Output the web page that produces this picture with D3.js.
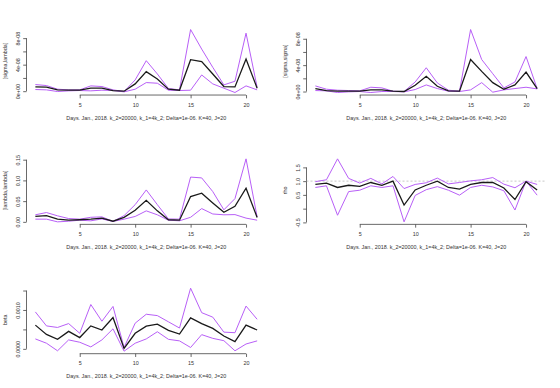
<!DOCTYPE html>
<html>
<head>
<meta charset="utf-8">
<script src="https://cdn.jsdelivr.net/npm/d3@7"></script>
<style>
  body { margin: 0; background: #fff; }
  text { font-family: "Liberation Sans", Arial, sans-serif; fill: #333; }
</style>
</head>
<body>
<div id="chart"></div>
<script>
var days = [1,2,3,4,5,6,7,8,9,10,11,12,13,14,15,16,17,18,19,20,21];
var xTicks = [5,10,15,20];
var xTitle = "Days. Jan., 2018. k_2=20000, k_1=4k_2; Delta=1e-06. K=40, J=20";

// [sigma,lambda]
var sigLamUp   = [1.0e-8,0.85e-8,0.3e-8,0.2e-8,0.2e-8,0.8e-8,0.7e-8,0.2e-8,-0.05e-8,1.7e-8,4.6e-8,2.6e-8,0.4e-8,0.2e-8,9.3e-8,6.35e-8,3.6e-8,0.95e-8,1.5e-8,8.75e-8,0.6e-8];
var sigLamMean = [0.65e-8,0.6e-8,0.2e-8,0.15e-8,0.15e-8,0.45e-8,0.45e-8,0.1e-8,0,1.1e-8,2.95e-8,1.85e-8,0.3e-8,0.15e-8,4.75e-8,4.45e-8,2.6e-8,0.7e-8,0.65e-8,4.85e-8,0.45e-8];
var sigLamLo   = [0.25e-8,0.2e-8,-0.05e-8,0.05e-8,0.1e-8,0.05e-8,0.15e-8,0.1e-8,-0.1e-8,0.3e-8,1.3e-8,1.2e-8,0.15e-8,0.1e-8,0.15e-8,2.45e-8,1.1e-8,0.45e-8,-0.2e-8,0.8e-8,0.2e-8];

// [sigma,sigma]
var sigSigUp   = [0.85e-8,0.35e-8,0.2e-8,0.15e-8,0.1e-8,0.65e-8,0.55e-8,0.05e-8,0,1.45e-8,3.6e-8,1.3e-8,0.2e-8,0.05e-8,9.4e-8,4.85e-8,2.7e-8,0.55e-8,1.45e-8,5.3e-8,0.45e-8];
var sigSigMean = [0.45e-8,0.15e-8,0.05e-8,0.05e-8,0.05e-8,0.25e-8,0.25e-8,0.05e-8,0,0.95e-8,2.3e-8,0.8e-8,0.1e-8,0.05e-8,4.85e-8,3.05e-8,1.35e-8,0.35e-8,1.0e-8,2.95e-8,0.45e-8];
var sigSigLo   = [0.15e-8,0.1e-8,-0.15e-8,-0.05e-8,0,-0.15e-8,0,0,-0.05e-8,0.3e-8,1.0e-8,0.45e-8,0.05e-8,0,0.25e-8,1.35e-8,-0.1e-8,0.25e-8,0.45e-8,0.65e-8,0.4e-8];

// [lambda,lambda]
var lamLamUp   = [0.017,0.0225,0.0145,0.008,0.0065,0.011,0.012,0.001,0.015,0.0415,0.077,0.0415,0.007,0.0065,0.108,0.106,0.073,0.029,0.056,0.152,0.012];
var lamLamMean = [0.013,0.015,0.0065,0.004,0.005,0.0065,0.009,0.0015,0.011,0.028,0.052,0.0265,0.005,0.004,0.061,0.069,0.0455,0.023,0.0375,0.081,0.0105];
var lamLamLo   = [0.0065,0.0065,0,0.0015,0.004,0.0025,0.007,0.001,0.0065,0.013,0.0265,0.017,0.004,0.0025,0.011,0.032,0.019,0.017,0.0175,0.009,0.004];

// rho
var rhoUp   = [0.98,1.05,1.81,1.1,0.93,1.1,0.9,1.17,0.73,0.88,0.94,1.11,0.9,0.95,1.01,1.05,1.13,0.89,0.76,1.0,0.88];
var rhoMean = [0.88,0.93,0.77,0.85,0.81,0.95,0.85,1.0,0.13,0.68,0.85,1.0,0.77,0.71,0.88,0.95,0.95,0.75,0.33,0.98,0.68];
var rhoLo   = [0.77,0.83,-0.24,0.62,0.67,0.83,0.77,0.83,-0.48,0.48,0.69,0.8,0.67,0.49,0.77,0.85,0.79,0.65,-0.05,1.0,0.49];

// beta
var betaUp   = [0.00095,0.00059,0.00055,0.00065,0.0004,0.00114,0.00071,0.00109,0.000035,0.00066,0.00089,0.000855,0.000695,0.000535,0.00156,0.00093,0.000815,0.00043,0.000415,0.0011,0.00076];
var betaMean = [0.00061,0.00037,0.000245,0.00045,0.00029,0.00059,0.000485,0.000805,0.00001,0.0004,0.000585,0.000635,0.000475,0.00038,0.000795,0.00065,0.000525,0.00033,0.000185,0.00061,0.000485];
var betaLo   = [0.000255,0.000145,-0.00005,0.00023,0.00017,0.00005,0.00023,0.000515,-0.00006,0.000145,0.000255,0.00044,0.000245,0.000205,0.000035,0.000365,0.00027,0.00021,-0.00005,0.000125,0.000205];

var panels = [
  {label: "[sigma,lambda]", up: sigLamUp, mean: sigLamMean, lo: sigLamLo,
   ticks: [0,2e-8,4e-8,6e-8,8e-8], tickLabels: ["0e+00","","4e-08","","8e-08"]},
  {label: "[sigma,sigma]", up: sigSigUp, mean: sigSigMean, lo: sigSigLo,
   ticks: [0,2e-8,4e-8,6e-8,8e-8], tickLabels: ["0e+00","","4e-08","","8e-08"]},
  {label: "[lambda,lambda]", up: lamLamUp, mean: lamLamMean, lo: lamLamLo,
   ticks: [0,0.05,0.10,0.15], tickLabels: ["0.00","0.05","0.10","0.15"]},
  {label: "rho", up: rhoUp, mean: rhoMean, lo: rhoLo, refLine: 1,
   ticks: [-0.5,0,0.5,1,1.5], tickLabels: ["-0.5","","0.5","1.0","1.5"]},
  {label: "beta", up: betaUp, mean: betaMean, lo: betaLo,
   ticks: [0,0.0005,0.001,0.0015], tickLabels: ["0.0000","","0.0010",""]}
];

var width = 560, height = 388;
var panelW = width / 2, panelH = height / 3;
var margin = {top: 27, left: 26.5, right: 14, bottom: 34.3};
var fontSize = 5.4;
var purple = "#b85ff7";

var svg = d3.select("#chart")
  .append("svg")
  .attr("width", width)
  .attr("height", height);

// R style: pad the data range by 4% each side
function pad(ext) {
  var d = (ext[1] - ext[0]) * 0.04;
  return [ext[0] - d, ext[1] + d];
}

var xScale = d3.scaleLinear()
  .domain(pad(d3.extent(days)))
  .range([margin.left, panelW - margin.right]);

panels.forEach(function(p, i) {
  var g = svg.append("g")
    .attr("transform", "translate(" + (i % 2) * panelW + "," + Math.floor(i / 2) * panelH + ")");

  var all = p.up.concat(p.mean, p.lo);
  var yScale = d3.scaleLinear()
    .domain(pad(d3.extent(all)))
    .range([panelH - margin.bottom, margin.top]);

  // x axis
  var xAxis = g.append("g")
    .attr("transform", "translate(0," + (panelH - margin.bottom) + ")")
    .call(d3.axisBottom(xScale).tickValues(xTicks).tickSize(3.3).tickPadding(4.5).tickSizeOuter(0));
  xAxis.select(".domain").attr("d", "M" + xScale(xTicks[0]) + ",0H" + xScale(xTicks[xTicks.length - 1]));

  // y axis
  var yAxis = g.append("g")
    .attr("transform", "translate(" + margin.left + ",0)")
    .call(d3.axisLeft(yScale).tickValues(p.ticks)
      .tickFormat(function(d, j) { return p.tickLabels[j]; })
      .tickSize(3.3).tickSizeOuter(0));
  yAxis.select(".domain").attr("d", "M0," + yScale(p.ticks[0]) + "V" + yScale(p.ticks[p.ticks.length - 1]));
  yAxis.selectAll(".tick text")
    .attr("x", null).attr("dy", null)
    .attr("transform", "translate(-6.5,0)rotate(-90)")
    .style("text-anchor", "middle");

  g.selectAll(".domain, .tick line").attr("stroke", "#444").attr("stroke-width", 0.8);
  g.selectAll(".tick text").attr("font-size", fontSize).attr("fill", "#333")
    .attr("font-family", "Liberation Sans, Arial, sans-serif");

  if (p.refLine !== undefined) {
    g.append("line")
      .attr("x1", margin.left).attr("x2", panelW - margin.right)
      .attr("y1", yScale(p.refLine)).attr("y2", yScale(p.refLine))
      .attr("stroke", "#bbb").attr("stroke-width", 0.8)
      .attr("stroke-dasharray", "2,2");
  }

  var line = d3.line()
    .x(function(d, j) { return xScale(days[j]); })
    .y(function(d) { return yScale(d); });

  [p.up, p.lo].forEach(function(s) {
    g.append("path").datum(s)
      .attr("d", line).attr("fill", "none")
      .attr("stroke", purple).attr("stroke-width", 1);
  });
  g.append("path").datum(p.mean)
    .attr("d", line).attr("fill", "none")
    .attr("stroke", "#1a1a1a").attr("stroke-width", 1.3);

  // labels
  g.append("text")
    .attr("x", (margin.left + panelW - margin.right) / 2)
    .attr("y", panelH - margin.bottom + 24.5)
    .attr("text-anchor", "middle")
    .attr("font-size", fontSize)
    .text(xTitle);

  var cy = (margin.top + panelH - margin.bottom) / 2;
  g.append("text")
    .attr("transform", "translate(6.5," + cy + ")rotate(-90)")
    .attr("text-anchor", "middle")
    .attr("font-size", fontSize)
    .text(p.label);
});
</script>
</body>
</html>
